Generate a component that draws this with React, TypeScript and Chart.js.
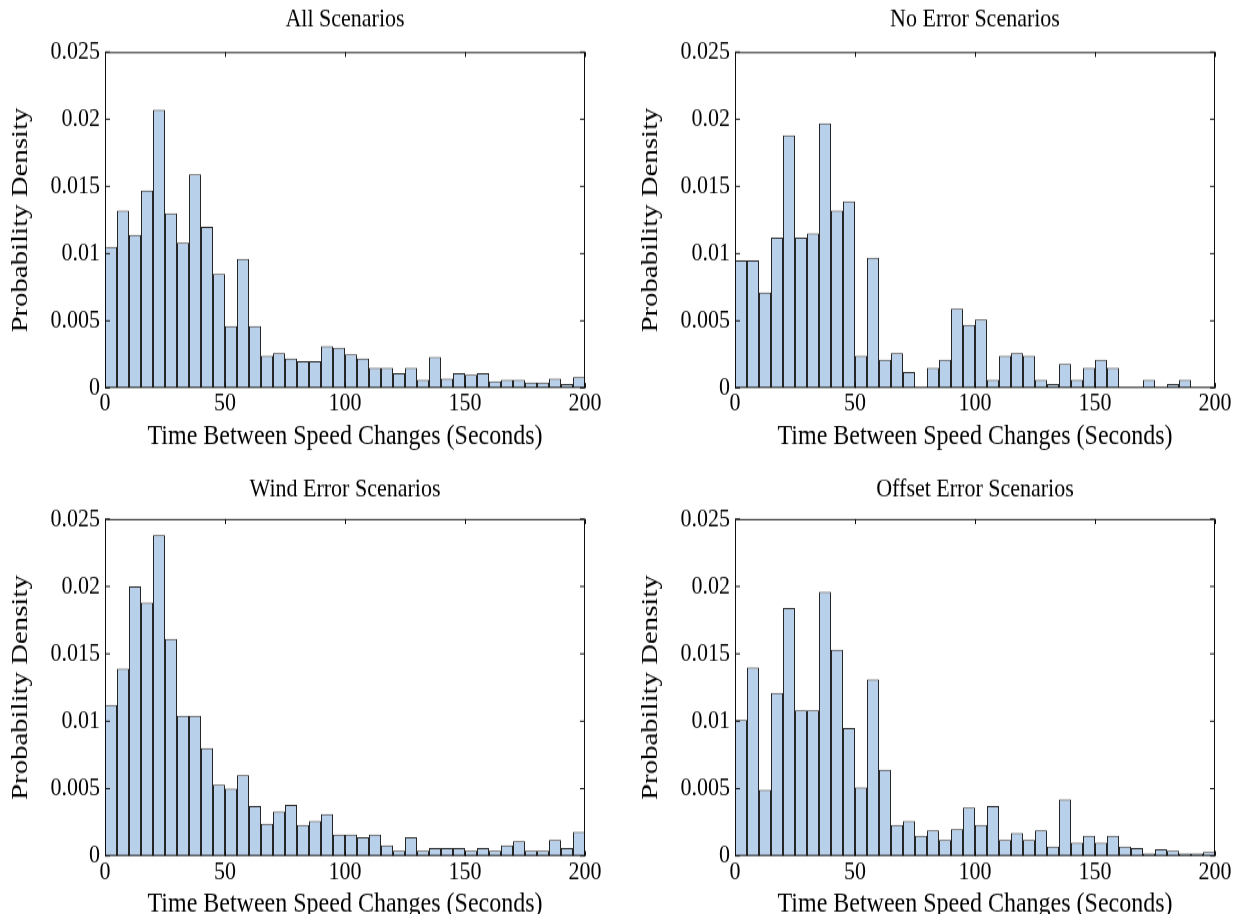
import React, { useEffect, useRef } from 'react';
import { Chart, registerables } from 'chart.js';

Chart.register(...registerables);

// ---------- data ----------
const binCenters = [
  2.5, 7.5, 12.5, 17.5, 22.5, 27.5, 32.5, 37.5, 42.5, 47.5,
  52.5, 57.5, 62.5, 67.5, 72.5, 77.5, 82.5, 87.5, 92.5, 97.5,
  102.5, 107.5, 112.5, 117.5, 122.5, 127.5, 132.5, 137.5, 142.5, 147.5,
  152.5, 157.5, 162.5, 167.5, 172.5, 177.5, 182.5, 187.5, 192.5, 197.5,
];

const allScenarios = [
  0.0105, 0.0132, 0.0114, 0.0147, 0.0207, 0.0130, 0.0108, 0.0159, 0.0120, 0.0085,
  0.0046, 0.0096, 0.0046, 0.0024, 0.0026, 0.0022, 0.0020, 0.0020, 0.0031, 0.0030,
  0.0025, 0.0022, 0.0015, 0.0015, 0.0011, 0.0015, 0.0006, 0.0023, 0.0007, 0.0011,
  0.0010, 0.0011, 0.0005, 0.0006, 0.0006, 0.0004, 0.0004, 0.0007, 0.0003, 0.0008,
];

const noErrorScenarios = [
  0.0095, 0.0095, 0.0071, 0.0112, 0.0188, 0.0112, 0.0115, 0.0197, 0.0132, 0.0139,
  0.0024, 0.0097, 0.0021, 0.0026, 0.0012, 0, 0.0015, 0.0021, 0.0059, 0.0047,
  0.0051, 0.0006, 0.0024, 0.0026, 0.0024, 0.0006, 0.0003, 0.0018, 0.0006, 0.0015,
  0.0021, 0.0015, 0, 0, 0.0006, 0, 0.0003, 0.0006, 0, 0,
];

const windErrorScenarios = [
  0.0112, 0.0139, 0.0200, 0.0188, 0.0238, 0.0161, 0.0104, 0.0104, 0.0080, 0.0053,
  0.0050, 0.0060, 0.0037, 0.0024, 0.0033, 0.0038, 0.0023, 0.0026, 0.0031, 0.0016,
  0.0016, 0.0014, 0.0016, 0.0008, 0.0004, 0.0014, 0.0004, 0.0006, 0.0006, 0.0006,
  0.0004, 0.0006, 0.0004, 0.0008, 0.0011, 0.0004, 0.0004, 0.0012, 0.0006, 0.0018,
];

const offsetErrorScenarios = [
  0.0101, 0.0140, 0.0049, 0.0121, 0.0184, 0.0108, 0.0108, 0.0196, 0.0153, 0.0095,
  0.0051, 0.0131, 0.0064, 0.0023, 0.0026, 0.0015, 0.0019, 0.0012, 0.0020, 0.0036,
  0.0023, 0.0037, 0.0012, 0.0017, 0.0012, 0.0019, 0.0007, 0.0042, 0.0010, 0.0015,
  0.0010, 0.0015, 0.0007, 0.0006, 0.0002, 0.0005, 0.0004, 0.0002, 0.0002, 0.0003,
];

const xTickLabels = ['0', '50', '100', '150', '200'];
const yTickLabels = ['0', '0.005', '0.01', '0.015', '0.02', '0.025'];
const panelTitles = ['All Scenarios', 'No Error Scenarios', 'Wind Error Scenarios', 'Offset Error Scenarios'];
const xAxisTitle = 'Time Between Speed Changes (Seconds)';
const yAxisTitle = 'Probability Density';

// ---------- layout (absolute page px) ----------
const SY = 1.2; // vertical stretch of the reference picture
const FONT = '"Liberation Serif", "Times New Roman", serif';
const BAR_FILL = '#b9d0ea';
const BAR_EDGE = '#262626';
const FRAME = '#111111';

type Layout = {
  cx: number; cy: number; w: number; h: number;
  l: number; r: number; t: number; b: number;
  titleCY: number; yTitleCX: number; xTickCY: number; xTitleCY: number;
};

const layouts: Layout[] = [
  { cx: 0, cy: 0, w: 618, h: 480, l: 105, r: 585, t: 52, b: 388, titleCY: 19, yTitleCX: 21, xTickCY: 404, xTitleCY: 436 },
  { cx: 618, cy: 0, w: 618, h: 480, l: 735, r: 1215, t: 52, b: 388, titleCY: 19, yTitleCX: 651, xTickCY: 404, xTitleCY: 436 },
  { cx: 0, cy: 470, w: 618, h: 444, l: 105, r: 585, t: 519, b: 856, titleCY: 489, yTitleCX: 21, xTickCY: 872, xTitleCY: 904 },
  { cx: 618, cy: 470, w: 618, h: 444, l: 735, r: 1215, t: 519, b: 856, titleCY: 489, yTitleCX: 651, xTickCY: 872, xTitleCY: 904 },
];

const seriesList = [allScenarios, noErrorScenarios, windErrorScenarios, offsetErrorScenarios];

const TITLE_SIZE = 22;
const TICK_SIZE = 22;
const AXIS_TITLE_SIZE = 24;

const framePlugin = {
  id: 'matlabFrame',
  afterDatasetsDraw(chart: any) {
    const { ctx, chartArea: a, scales } = chart;
    const x = scales.x;
    const y = scales.y;
    const tlx = 5;
    const tly = 5 / SY;
    ctx.save();
    ctx.strokeStyle = FRAME;
    ctx.lineWidth = 1;
    ctx.beginPath();
    ctx.rect(a.left + 0.5, a.top + 0.5, a.right - a.left - 1, a.bottom - a.top - 1);
    ctx.stroke();
    ctx.beginPath();
    x.ticks.forEach((t: any) => {
      const px = Math.round(x.getPixelForValue(t.value)) + 0.5;
      ctx.moveTo(px, a.bottom);
      ctx.lineTo(px, a.bottom - tly);
      ctx.moveTo(px, a.top);
      ctx.lineTo(px, a.top + tly);
    });
    y.ticks.forEach((t: any) => {
      const py = y.getPixelForValue(t.value);
      ctx.moveTo(a.left, py);
      ctx.lineTo(a.left + tlx, py);
      ctx.moveTo(a.right, py);
      ctx.lineTo(a.right - tlx, py);
    });
    ctx.stroke();
    ctx.restore();
  },
};

function buildConfig(idx: number): any {
  const L = layouts[idx];
  const hu = L.h / SY; // canvas units height
  const u = (absY: number) => (absY - L.cy) / SY;
  const chartTop = u(L.t);
  const chartBottom = u(L.b);
  const titleLH = TITLE_SIZE * 1.2;
  const titlePadTop = u(L.titleCY) - titleLH / 2;
  const titlePadBottom = chartTop - titlePadTop - titleLH;
  const xScaleHeight = hu - chartBottom;
  const tickLH = TICK_SIZE; // lineHeight 1
  const xTickPad = u(L.xTickCY) - chartBottom - tickLH / 2;
  const axisLH = AXIS_TITLE_SIZE * 1.2;
  const xTitlePadBottom = hu - u(L.xTitleCY) - axisLH / 2;
  const yScaleWidth = L.l - L.cx;
  const yTitlePadTop = L.yTitleCX - L.cx - axisLH / 2;
  const padRight = L.cx + L.w - L.r;

  const data = seriesList[idx].map((v, i) => ({ x: binCenters[i], y: v }));

  return {
    type: 'bar',
    data: {
      datasets: [
        {
          data,
          backgroundColor: BAR_FILL,
          borderColor: BAR_EDGE,
          borderWidth: 1,
          borderSkipped: 'start',
          inflateAmount: 0,
          barPercentage: 1,
          categoryPercentage: 1,
        },
      ],
    },
    options: {
      responsive: false,
      animation: false,
      devicePixelRatio: 1,
      layout: { padding: { left: 0, right: padRight, top: 0, bottom: 0 } },
      plugins: {
        legend: { display: false },
        tooltip: { enabled: false },
        title: {
          display: true,
          text: panelTitles[idx],
          fullSize: false,
          color: '#000',
          font: { family: FONT, size: TITLE_SIZE, weight: 'normal', lineHeight: 1.2 },
          padding: { top: titlePadTop, bottom: titlePadBottom },
        },
      },
      scales: {
        x: {
          type: 'linear',
          min: 0,
          max: 200,
          offset: false,
          grid: { display: false, drawTicks: false },
          border: { display: false },
          ticks: {
            stepSize: 50,
            maxRotation: 0,
            autoSkip: false,
            padding: xTickPad,
            color: '#000',
            font: { family: FONT, size: TICK_SIZE, lineHeight: 1 },
            callback: (_v: any, i: number) => xTickLabels[i] ?? '',
          },
          title: {
            display: true,
            text: xAxisTitle,
            color: '#000',
            font: { family: FONT, size: AXIS_TITLE_SIZE, lineHeight: 1.2 },
            padding: { top: 0, bottom: xTitlePadBottom },
          },
          afterFit: (scale: any) => {
            scale.height = xScaleHeight;
          },
        },
        y: {
          type: 'linear',
          min: 0,
          max: 0.025,
          grid: { display: false, drawTicks: false },
          border: { display: false },
          ticks: {
            stepSize: 0.005,
            padding: 5,
            color: '#000',
            font: { family: FONT, size: TICK_SIZE, lineHeight: 1 },
            callback: (_v: any, i: number) => yTickLabels[i] ?? '',
          },
          title: {
            display: true,
            text: yAxisTitle,
            color: '#000',
            font: { family: FONT, size: AXIS_TITLE_SIZE, lineHeight: 1.2 },
            padding: { top: yTitlePadTop, bottom: 0 },
          },
          afterFit: (scale: any) => {
            scale.width = yScaleWidth;
          },
        },
      },
    },
    plugins: [framePlugin],
  };
}

function HistPanel({ idx }: { idx: number }) {
  const ref = useRef<HTMLCanvasElement | null>(null);
  const L = layouts[idx];
  useEffect(() => {
    const canvas = ref.current;
    if (!canvas) return;
    const chart = new Chart(canvas, buildConfig(idx));
    return () => chart.destroy();
  }, [idx]);
  return (
    <canvas
      ref={ref}
      width={L.w}
      height={Math.round(L.h / SY)}
      style={{
        position: 'absolute',
        left: L.cx + 'px',
        top: L.cy + 'px',
        width: L.w + 'px',
        height: L.h + 'px',
      }}
    />
  );
}

export default function App() {
  return (
    <div
      style={{
        position: 'absolute',
        left: 0,
        top: 0,
        width: '1236px',
        height: '914px',
        background: '#ffffff',
        overflow: 'hidden',
      }}
    >
      {[0, 1, 2, 3].map((i) => (
        <HistPanel key={i} idx={i} />
      ))}
    </div>
  );
}
